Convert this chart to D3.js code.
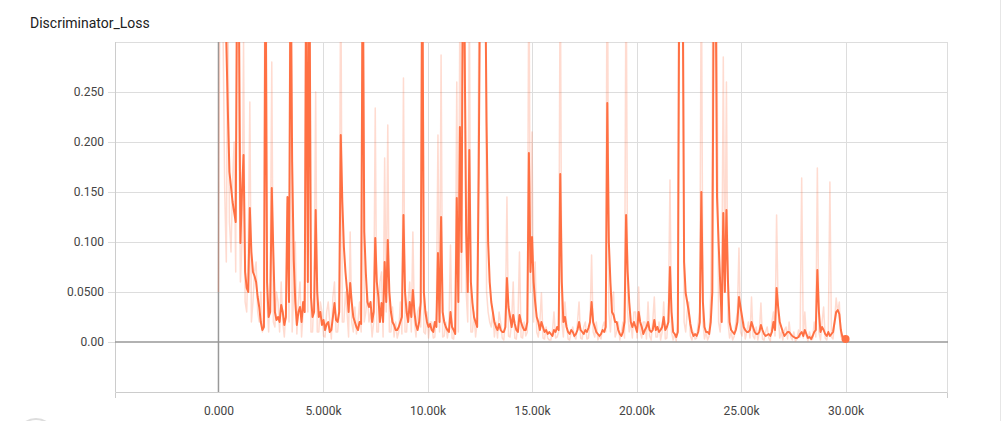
<!DOCTYPE html>
<html>
<head>
<meta charset="utf-8">
<script src="https://cdn.jsdelivr.net/npm/d3@7"></script>
<style>
  body { margin: 0; background: #fff; }
  svg { display: block; font-family: Roboto, "Noto Sans", sans-serif; }
  .tick text { fill: #444; font-size: 12px; }
</style>
</head>
<body>
<div id="chart"></div>
<script>
// chart data
var chartTitle = "Discriminator_Loss";

var steps = [
  0, 75, 150, 225, 300, 375, 450, 525, 600, 675, 750, 825, 900, 975, 1050, 1125, 1200, 1275, 1350, 1425,
  1500, 1575, 1650, 1725, 1800, 1875, 1950, 2025, 2100, 2175, 2250, 2325, 2400, 2475, 2550, 2625, 2700, 2775, 2850, 2925,
  3000, 3075, 3150, 3225, 3300, 3375, 3450, 3525, 3600, 3675, 3750, 3825, 3900, 3975, 4050, 4125, 4200, 4275, 4350, 4425,
  4500, 4575, 4650, 4725, 4800, 4875, 4950, 5025, 5100, 5175, 5250, 5325, 5400, 5475, 5550, 5625, 5700, 5775, 5850, 5925,
  6000, 6075, 6150, 6225, 6300, 6375, 6450, 6525, 6600, 6675, 6750, 6825, 6900, 6975, 7050, 7125, 7200, 7275, 7350, 7425,
  7500, 7575, 7650, 7725, 7800, 7875, 7950, 8025, 8100, 8175, 8250, 8325, 8400, 8475, 8550, 8625, 8700, 8775, 8850, 8925,
  9000, 9075, 9150, 9225, 9300, 9375, 9450, 9525, 9600, 9675, 9750, 9825, 9900, 9975, 10050, 10125, 10200, 10275, 10350, 10425,
  10500, 10575, 10650, 10725, 10800, 10875, 10950, 11025, 11100, 11175, 11250, 11325, 11400, 11475, 11550, 11625, 11700, 11775, 11850, 11925,
  12000, 12075, 12150, 12225, 12300, 12375, 12450, 12525, 12600, 12675, 12750, 12825, 12900, 12975, 13050, 13125, 13200, 13275, 13350, 13425,
  13500, 13575, 13650, 13725, 13800, 13875, 13950, 14025, 14100, 14175, 14250, 14325, 14400, 14475, 14550, 14625, 14700, 14775, 14850, 14925,
  15000, 15075, 15150, 15225, 15300, 15375, 15450, 15525, 15600, 15675, 15750, 15825, 15900, 15975, 16050, 16125, 16200, 16275, 16350, 16425,
  16500, 16575, 16650, 16725, 16800, 16875, 16950, 17025, 17100, 17175, 17250, 17325, 17400, 17475, 17550, 17625, 17700, 17775, 17850, 17925,
  18000, 18075, 18150, 18225, 18300, 18375, 18450, 18525, 18600, 18675, 18750, 18825, 18900, 18975, 19050, 19125, 19200, 19275, 19350, 19425,
  19500, 19575, 19650, 19725, 19800, 19875, 19950, 20025, 20100, 20175, 20250, 20325, 20400, 20475, 20550, 20625, 20700, 20775, 20850, 20925,
  21000, 21075, 21150, 21225, 21300, 21375, 21450, 21525, 21600, 21675, 21750, 21825, 21900, 21975, 22050, 22125, 22200, 22275, 22350, 22425,
  22500, 22575, 22650, 22725, 22800, 22875, 22950, 23025, 23100, 23175, 23250, 23325, 23400, 23475, 23550, 23625, 23700, 23775, 23850, 23925,
  24000, 24075, 24150, 24225, 24300, 24375, 24450, 24525, 24600, 24675, 24750, 24825, 24900, 24975, 25050, 25125, 25200, 25275, 25350, 25425,
  25500, 25575, 25650, 25725, 25800, 25875, 25950, 26025, 26100, 26175, 26250, 26325, 26400, 26475, 26550, 26625, 26700, 26775, 26850, 26925,
  27000, 27075, 27150, 27225, 27300, 27375, 27450, 27525, 27600, 27675, 27750, 27825, 27900, 27975, 28050, 28125, 28200, 28275, 28350, 28425,
  28500, 28575, 28650, 28725, 28800, 28875, 28950, 29025, 29100, 29175, 29250, 29325, 29400, 29475, 29550, 29625, 29700, 29775, 29850, 29925,
  30000
];

var smoothed = [
  0.50, 0.58, 0.62, 0.50, 0.40, 0.30, 0.23, 0.17, 0.155, 0.14, 0.13, 0.12, 0.40, 0.35, 0.099, 0.15, 0.187, 0.07, 0.054, 0.05,
  0.134, 0.09, 0.07, 0.066, 0.06, 0.045, 0.035, 0.02, 0.012, 0.015, 0.40, 0.06, 0.025, 0.03, 0.154, 0.089, 0.03, 0.022, 0.025, 0.02,
  0.037, 0.03, 0.017, 0.025, 0.145, 0.04, 0.40, 0.18, 0.082, 0.04, 0.017, 0.03, 0.035, 0.02, 0.04, 0.03, 0.40, 0.06, 0.40, 0.045,
  0.025, 0.03, 0.132, 0.05, 0.025, 0.03, 0.017, 0.022, 0.012, 0.018, 0.02, 0.01, 0.012, 0.025, 0.039, 0.022, 0.02, 0.03, 0.207, 0.14,
  0.095, 0.07, 0.052, 0.03, 0.059, 0.04, 0.025, 0.02, 0.015, 0.012, 0.02, 0.018, 0.40, 0.11, 0.069, 0.04, 0.035, 0.04, 0.02, 0.03,
  0.104, 0.06, 0.045, 0.02, 0.039, 0.02, 0.08, 0.04, 0.102, 0.05, 0.03, 0.02, 0.017, 0.012, 0.012, 0.015, 0.02, 0.025, 0.127, 0.05,
  0.03, 0.02, 0.04, 0.025, 0.052, 0.03, 0.017, 0.012, 0.02, 0.04, 0.40, 0.05, 0.03, 0.02, 0.015, 0.018, 0.012, 0.01, 0.02, 0.015,
  0.089, 0.02, 0.125, 0.03, 0.02, 0.015, 0.012, 0.01, 0.03, 0.015, 0.012, 0.008, 0.144, 0.04, 0.215, 0.09, 0.40, 0.30, 0.109, 0.05,
  0.192, 0.06, 0.039, 0.025, 0.02, 0.015, 0.169, 0.40, 0.40, 0.40, 0.40, 0.22, 0.10, 0.06, 0.04, 0.03, 0.02, 0.015, 0.012, 0.018,
  0.012, 0.01, 0.01, 0.015, 0.064, 0.035, 0.025, 0.015, 0.027, 0.018, 0.012, 0.01, 0.027, 0.02, 0.015, 0.012, 0.012, 0.02, 0.189, 0.07,
  0.105, 0.06, 0.04, 0.025, 0.02, 0.012, 0.02, 0.015, 0.01, 0.012, 0.008, 0.01, 0.008, 0.006, 0.012, 0.01, 0.015, 0.012, 0.168, 0.06,
  0.02, 0.025, 0.015, 0.01, 0.008, 0.012, 0.01, 0.006, 0.008, 0.012, 0.02, 0.012, 0.01, 0.008, 0.012, 0.01, 0.014, 0.02, 0.04, 0.02,
  0.015, 0.01, 0.008, 0.006, 0.008, 0.012, 0.01, 0.015, 0.239, 0.10, 0.06, 0.03, 0.027, 0.02, 0.02, 0.012, 0.008, 0.006, 0.01, 0.02,
  0.127, 0.07, 0.04, 0.02, 0.015, 0.02, 0.015, 0.01, 0.03, 0.02, 0.015, 0.008, 0.012, 0.015, 0.02, 0.012, 0.01, 0.012, 0.022, 0.012,
  0.015, 0.01, 0.012, 0.015, 0.025, 0.012, 0.015, 0.02, 0.075, 0.03, 0.01, 0.008, 0.005, 0.01, 0.40, 0.40, 0.40, 0.08, 0.049, 0.04,
  0.03, 0.018, 0.01, 0.006, 0.008, 0.006, 0.01, 0.02, 0.15, 0.04, 0.015, 0.01, 0.01, 0.008, 0.02, 0.05, 0.40, 0.40, 0.145, 0.10,
  0.06, 0.02, 0.129, 0.05, 0.132, 0.06, 0.02, 0.012, 0.01, 0.008, 0.012, 0.02, 0.045, 0.035, 0.025, 0.015, 0.012, 0.01, 0.01, 0.012,
  0.02, 0.015, 0.01, 0.008, 0.008, 0.01, 0.017, 0.012, 0.008, 0.006, 0.007, 0.008, 0.006, 0.01, 0.02, 0.012, 0.054, 0.035, 0.02, 0.015,
  0.01, 0.006, 0.008, 0.01, 0.01, 0.008, 0.006, 0.005, 0.004, 0.004, 0.005, 0.008, 0.01, 0.006, 0.012, 0.008, 0.004, 0.005, 0.003, 0.006,
  0.01, 0.012, 0.072, 0.03, 0.01, 0.015, 0.012, 0.008, 0.006, 0.01, 0.006, 0.008, 0.01, 0.02, 0.03, 0.032, 0.028, 0.012, 0.005, 0.004,
  0.003
];

var raw = [
  0.05, 0.40, 0.9, 0.30, 0.15, 0.08, 0.35, 0.12, 0.09, 0.16, 0.20, 0.07, 0.60, 0.22, 0.06, 0.10, 0.30, 0.04, 0.03, 0.09,
  0.24, 0.02, 0.04, 0.07, 0.08, 0.03, 0.02, 0.05, 0.01, 0.02, 0.70, 0.04, 0.01, 0.06, 0.28, 0.02, 0.015, 0.05, 0.04, 0.01,
  0.06, 0.02, 0.005, 0.03, 0.139, 0.02, 0.65, 0.01, 0.05, 0.10, 0.008, 0.04, 0.06, 0.005, 0.03, 0.06, 0.55, 0.03, 0.50, 0.01,
  0.01, 0.05, 0.25, 0.01, 0.01, 0.04, 0.03, 0.006, 0.005, 0.03, 0.04, 0.02, 0.003, 0.045, 0.06, 0.01, 0.01, 0.03, 0.40, 0.02,
  0.02, 0.05, 0.03, 0.005, 0.11, 0.02, 0.01, 0.035, 0.008, 0.02, 0.04, 0.01, 0.60, 0.02, 0.03, 0.05, 0.02, 0.03, 0.005, 0.02,
  0.234, 0.01, 0.01, 0.06, 0.07, 0.005, 0.184, 0.03, 0.217, 0.01, 0.01, 0.035, 0.005, 0.02, 0.004, 0.01, 0.04, 0.008, 0.264, 0.01,
  0.01, 0.04, 0.06, 0.01, 0.11, 0.02, 0.005, 0.03, 0.035, 0.015, 0.60, 0.01, 0.008, 0.03, 0.004, 0.02, 0.02, 0.004, 0.005, 0.03,
  0.207, 0.01, 0.287, 0.005, 0.006, 0.02, 0.004, 0.015, 0.097, 0.004, 0.003, 0.02, 0.26, 0.01, 0.35, 0.05, 0.70, 0.40, 0.05, 0.02,
  0.35, 0.01, 0.01, 0.03, 0.005, 0.02, 0.30, 0.70, 0.80, 0.60, 0.60, 0.05, 0.03, 0.02, 0.015, 0.03, 0.005, 0.02, 0.004, 0.03,
  0.02, 0.004, 0.002, 0.02, 0.145, 0.006, 0.005, 0.02, 0.06, 0.004, 0.003, 0.02, 0.09, 0.005, 0.004, 0.02, 0.006, 0.01, 0.40, 0.05,
  0.21, 0.02, 0.08, 0.01, 0.005, 0.02, 0.049, 0.004, 0.003, 0.015, 0.004, 0.002, 0.002, 0.01, 0.03, 0.004, 0.005, 0.01, 0.40, 0.02,
  0.005, 0.04, 0.02, 0.003, 0.002, 0.01, 0.015, 0.005, 0.003, 0.02, 0.04, 0.004, 0.003, 0.015, 0.02, 0.003, 0.004, 0.02, 0.087, 0.01,
  0.005, 0.02, 0.002, 0.006, 0.003, 0.015, 0.02, 0.01, 0.45, 0.03, 0.01, 0.04, 0.05, 0.005, 0.01, 0.02, 0.002, 0.01, 0.02, 0.004,
  0.40, 0.03, 0.01, 0.02, 0.004, 0.03, 0.03, 0.004, 0.055, 0.01, 0.004, 0.02, 0.02, 0.003, 0.04, 0.006, 0.002, 0.02, 0.045, 0.005,
  0.005, 0.02, 0.002, 0.01, 0.04, 0.003, 0.004, 0.03, 0.162, 0.01, 0.002, 0.008, 0.001, 0.02, 0.80, 0.70, 0.70, 0.02, 0.01, 0.03,
  0.04, 0.006, 0.002, 0.01, 0.003, 0.004, 0.02, 0.03, 0.40, 0.02, 0.003, 0.01, 0.002, 0.006, 0.05, 0.20, 0.90, 0.60, 0.30, 0.02,
  0.01, 0.04, 0.285, 0.05, 0.26, 0.02, 0.004, 0.01, 0.002, 0.006, 0.02, 0.03, 0.094, 0.01, 0.006, 0.02, 0.003, 0.01, 0.02, 0.004,
  0.045, 0.006, 0.003, 0.015, 0.002, 0.01, 0.039, 0.003, 0.002, 0.01, 0.015, 0.004, 0.001, 0.02, 0.03, 0.006, 0.127, 0.03, 0.004, 0.01,
  0.002, 0.012, 0.015, 0.003, 0.02, 0.005, 0.002, 0.01, 0.001, 0.003, 0.012, 0.005, 0.164, 0.004, 0.03, 0.006, 0.001, 0.01, 0.002, 0.003,
  0.02, 0.005, 0.174, 0.01, 0.002, 0.02, 0.035, 0.004, 0.002, 0.01, 0.16, 0.005, 0.003, 0.02, 0.044, 0.03, 0.04, 0.006, 0.002, 0.004,
  0.003
];

var xTicks = [0, 5000, 10000, 15000, 20000, 25000, 30000];
var xTickLabels = ["0.000", "5.000k", "10.00k", "15.00k", "20.00k", "25.00k", "30.00k"];
var yTicks = [0, 0.05, 0.1, 0.15, 0.2, 0.25];
var yTickLabels = ["0.00", "0.0500", "0.100", "0.150", "0.200", "0.250"];

var svgWidth = 1002;
var svgHeight = 421;
var margin = { top: 42, right: 54, bottom: 29, left: 115 };
var width = svgWidth - margin.left - margin.right;
var height = svgHeight - margin.top - margin.bottom;
var lineColor = "#ff7043";

var svg = d3.select("#chart")
  .append("svg")
  .attr("width", svgWidth)
  .attr("height", svgHeight);

// title
svg.append("text")
  .attr("x", 30)
  .attr("y", 28)
  .attr("font-size", "14px")
  .attr("fill", "#212121")
  .text(chartTitle);

// card edge on the right, and the round button peeking in at the bottom
svg.append("line")
  .attr("x1", 1000.5).attr("x2", 1000.5)
  .attr("y1", 0).attr("y2", svgHeight)
  .attr("stroke", "#e6e6e6");
svg.append("circle")
  .attr("cx", 36).attr("cy", 438).attr("r", 19)
  .attr("fill", "none").attr("stroke", "#ddd").attr("stroke-width", 2);

var chartGroup = svg.append("g")
  .attr("transform", `translate(${margin.left}, ${margin.top})`);

var xScale = d3.scaleLinear()
  .domain([-4950, 34900])
  .range([0, width]);

var yScale = d3.scaleLinear()
  .domain([-0.05, 0.3])
  .range([height, 0]);

// grid
chartGroup.append("g")
  .selectAll("line")
  .data(yTicks.filter(d => d !== 0))
  .enter()
  .append("line")
  .attr("x1", 0).attr("x2", width)
  .attr("y1", d => Math.round(yScale(d)) + 0.5)
  .attr("y2", d => Math.round(yScale(d)) + 0.5)
  .attr("stroke", "#ddd");

chartGroup.append("g")
  .selectAll("line")
  .data(xTicks.filter(d => d !== 0))
  .enter()
  .append("line")
  .attr("y1", 0).attr("y2", height)
  .attr("x1", d => Math.round(xScale(d)) + 0.5)
  .attr("x2", d => Math.round(xScale(d)) + 0.5)
  .attr("stroke", "#ddd");

// frame top and right
chartGroup.append("line")
  .attr("x1", 0).attr("x2", width).attr("y1", 0.5).attr("y2", 0.5)
  .attr("stroke", "#ddd");
chartGroup.append("line")
  .attr("x1", width - 0.5).attr("x2", width - 0.5).attr("y1", 0).attr("y2", height)
  .attr("stroke", "#ddd");

// axes
var bottomAxis = d3.axisBottom(xScale)
  .tickValues(xTicks)
  .tickFormat((d, i) => xTickLabels[i])
  .tickSize(0)
  .tickPadding(14);

var leftAxis = d3.axisLeft(yScale)
  .tickValues(yTicks)
  .tickFormat((d, i) => yTickLabels[i])
  .tickSize(7)
  .tickPadding(4);

var xAxisG = chartGroup.append("g")
  .attr("transform", `translate(0, ${height})`)
  .call(bottomAxis);
xAxisG.select(".domain").attr("stroke", "#ccc").attr("d", `M0.5,6V0.5H${width - 0.5}V6`);
xAxisG.selectAll("text").attr("font-family", "Roboto, sans-serif");

var yAxisG = chartGroup.append("g")
  .call(leftAxis);
yAxisG.select(".domain").attr("stroke", "#ccc").attr("d", `M0.5,0V${height}`);
yAxisG.selectAll(".tick line").attr("stroke", "#ddd");
yAxisG.selectAll("text").attr("font-family", "Roboto, sans-serif");

// zero lines
chartGroup.append("line")
  .attr("x1", 0).attr("x2", width)
  .attr("y1", yScale(0)).attr("y2", yScale(0))
  .attr("stroke", "#999").attr("stroke-width", 1.5);
chartGroup.append("line")
  .attr("y1", 0).attr("y2", height)
  .attr("x1", xScale(0)).attr("x2", xScale(0))
  .attr("stroke", "#999").attr("stroke-width", 1.5);

// clip
svg.append("defs").append("clipPath")
  .attr("id", "plotClip")
  .append("rect")
  .attr("x", 0).attr("y", 0)
  .attr("width", width).attr("height", height);

var plot = chartGroup.append("g").attr("clip-path", "url(#plotClip)");

var lossLine = d3.line()
  .x((d, i) => xScale(steps[i]))
  .y(d => yScale(d));

plot.append("path")
  .datum(raw)
  .attr("d", lossLine)
  .attr("fill", "none")
  .attr("stroke", lineColor)
  .attr("stroke-opacity", 0.25)
  .attr("stroke-width", 1.5)
  .attr("stroke-linejoin", "round");

plot.append("path")
  .datum(smoothed)
  .attr("d", lossLine)
  .attr("fill", "none")
  .attr("stroke", lineColor)
  .attr("stroke-width", 2)
  .attr("stroke-linejoin", "round");

// last point marker
var last = smoothed.length - 1;
chartGroup.append("circle")
  .attr("cx", xScale(steps[last]))
  .attr("cy", yScale(smoothed[last]))
  .attr("r", 4)
  .attr("fill", lineColor);
</script>
</body>
</html>
